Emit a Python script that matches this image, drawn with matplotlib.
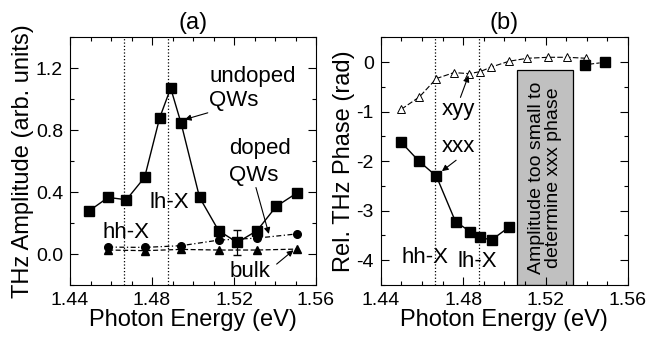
import numpy as np
import matplotlib
matplotlib.use("Agg")
import matplotlib.pyplot as plt
from matplotlib.ticker import MultipleLocator, FormatStrFormatter, FuncFormatter
from matplotlib.patches import Rectangle

plt.rcParams['font.family'] = ['Liberation Sans', 'DejaVu Sans']

# panel (a) amplitude
e_undoped = [1.4494, 1.4586, 1.4675, 1.4764, 1.4837, 1.4891, 1.4942, 1.5032, 1.5125, 1.5216, 1.5312, 1.5406, 1.5506]
amp_undoped = [0.28, 0.366, 0.351, 0.496, 0.879, 1.073, 0.845, 0.366, 0.151, 0.075, 0.151, 0.308, 0.394]
err_undoped = [0, 0, 0, 0, 0, 0, 0, 0, 0, 0.08, 0, 0, 0]

e_doped = [1.4586, 1.4764, 1.4942, 1.5125, 1.5312, 1.5506]
amp_doped = [0.045, 0.043, 0.054, 0.09, 0.103, 0.13]
amp_bulk = [0.026, 0.022, 0.03, 0.026, 0.026, 0.032]

# panel (b) phase
e_xyy = [1.4500, 1.4588, 1.4670, 1.4755, 1.4830, 1.4883, 1.4934, 1.5023, 1.5111, 1.5213, 1.5304, 1.5398]
ph_xyy = [-0.95, -0.70, -0.33, -0.21, -0.23, -0.19, -0.10, 0.02, 0.08, 0.10, 0.10, 0.08]
e_xxx = [1.4498, 1.4586, 1.4670, 1.4763, 1.4834, 1.4883, 1.4938, 1.5023, 1.5393, 1.5489]
ph_xxx = [-1.61, -2.00, -2.30, -3.22, -3.42, -3.54, -3.59, -3.33, -0.05, 0.0]

hh_x = 1.4665
lh_x = 1.4876

fs_tick = 14
fs_lab = 17
fs_ann = 16

fig = plt.figure(figsize=(6.49, 3.42), dpi=100)
ax1 = fig.add_axes([0.1079, 0.1667, 0.379, 0.7237])
ax2 = fig.add_axes([0.5866, 0.1667, 0.381, 0.7237])

for ax in (ax1, ax2):
    ax.set_xlim(1.44, 1.56)
    ax.xaxis.set_major_locator(MultipleLocator(0.04))
    ax.xaxis.set_minor_locator(MultipleLocator(0.01))
    ax.xaxis.set_major_formatter(FormatStrFormatter('%.2f'))
    ax.tick_params(which='both', direction='in', top=True, right=True, labelsize=fs_tick)
    ax.tick_params(which='major', length=6, width=0.8, pad=5)
    ax.tick_params(which='minor', length=3, width=0.8)
    ax.set_xlabel('Photon Energy (eV)', fontsize=fs_lab, labelpad=0)
    ax.axvline(hh_x, color='k', ls=':', lw=0.9)
    ax.axvline(lh_x, color='k', ls=':', lw=0.9)

arrow = dict(arrowstyle='-|>', color='k', lw=0.8, mutation_scale=9, shrinkA=0, shrinkB=0)

# (a)
ax1.set_ylim(-0.2, 1.4)
ax1.yaxis.set_major_locator(MultipleLocator(0.4))
ax1.yaxis.set_minor_locator(MultipleLocator(0.2))
ax1.yaxis.set_major_formatter(FormatStrFormatter('%.1f'))
ax1.errorbar(e_undoped, amp_undoped, yerr=err_undoped, color='k', lw=1, marker='s', ms=7,
             capsize=3, elinewidth=0.9, zorder=3)
ax1.plot(e_doped, amp_doped, color='k', lw=0.9, marker='o', ms=5.5, dashes=(4, 2, 1, 2))
ax1.plot(e_doped, amp_bulk, color='k', lw=0.9, marker='^', ms=5.5, dashes=(4, 2))
ax1.set_ylabel('THz Amplitude (arb. units)', fontsize=fs_lab, labelpad=1)
ax1.set_title('(a)', fontsize=fs_lab, pad=6)

ax1.text(1.5080, 1.110, 'undoped', fontsize=fs_ann, ha='left', va='baseline')
ax1.text(1.5080, 0.957, 'QWs', fontsize=fs_ann, ha='left', va='baseline')
ax1.annotate('', xy=(1.4960, 0.87), xytext=(1.5072, 0.913), arrowprops=arrow)
ax1.text(1.5178, 0.648, 'doped', fontsize=fs_ann, ha='left', va='baseline')
ax1.text(1.5178, 0.473, 'QWs', fontsize=fs_ann, ha='left', va='baseline')
ax1.annotate('', xy=(1.5370, 0.13), xytext=(1.5307, 0.43), arrowprops=arrow)
ax1.text(1.5178, -0.148, 'bulk', fontsize=fs_ann, ha='left', va='baseline')
ax1.annotate('', xy=(1.5490, 0.025), xytext=(1.5408, -0.065), arrowprops=arrow)
ax1.text(1.4789, 0.30, 'lh-X', fontsize=fs_ann, ha='left', va='baseline')
ax1.text(1.4556, 0.105, 'hh-X', fontsize=fs_ann, ha='left', va='baseline')

# (b)
ax2.set_ylim(-4.5, 0.5)
ax2.yaxis.set_major_locator(MultipleLocator(1))
ax2.yaxis.set_minor_locator(MultipleLocator(0.5))
ax2.yaxis.set_major_formatter(FuncFormatter(lambda v, p: '%d' % round(v)))
ax2.plot(e_xyy, ph_xyy, color='k', lw=0.8, marker='^', ms=6, mfc='white', mew=0.7, dashes=(5, 2))
ax2.plot(e_xxx[:8], ph_xxx[:8], color='k', lw=1, marker='s', ms=7)
ax2.plot(e_xxx[8:], ph_xxx[8:], color='k', lw=0.8, marker='s', ms=7, dashes=(3, 2))
ax2.set_ylabel('Rel. THz Phase (rad)', fontsize=fs_lab, labelpad=1)
ax2.set_title('(b)', fontsize=fs_lab, pad=6)

ax2.add_patch(Rectangle((1.5063, -4.5), 1.5333 - 1.5063, -0.16 + 4.5,
                        facecolor='#c0c0c0', edgecolor='k', lw=0.9, zorder=1))
ax2.text(1.5198, -2.33, 'Amplitude too small to\ndetermine xxx phase', fontsize=14,
         rotation=90, ha='center', va='center', linespacing=1.05)

ax2.text(1.4694, -1.07, 'xyy', fontsize=fs_ann, ha='left', va='baseline')
ax2.annotate('', xy=(1.4826, -0.27), xytext=(1.4787, -0.71), arrowprops=arrow)
ax2.text(1.4694, -1.82, 'xxx', fontsize=fs_ann, ha='left', va='baseline')
ax2.annotate('', xy=(1.4697, -2.2), xytext=(1.4766, -1.98), arrowprops=arrow)
ax2.text(1.4501, -4.05, 'hh-X', fontsize=fs_ann, ha='left', va='baseline')
ax2.text(1.4773, -4.14, 'lh-X', fontsize=fs_ann, ha='left', va='baseline')

fig.savefig('out.png', dpi=100)
